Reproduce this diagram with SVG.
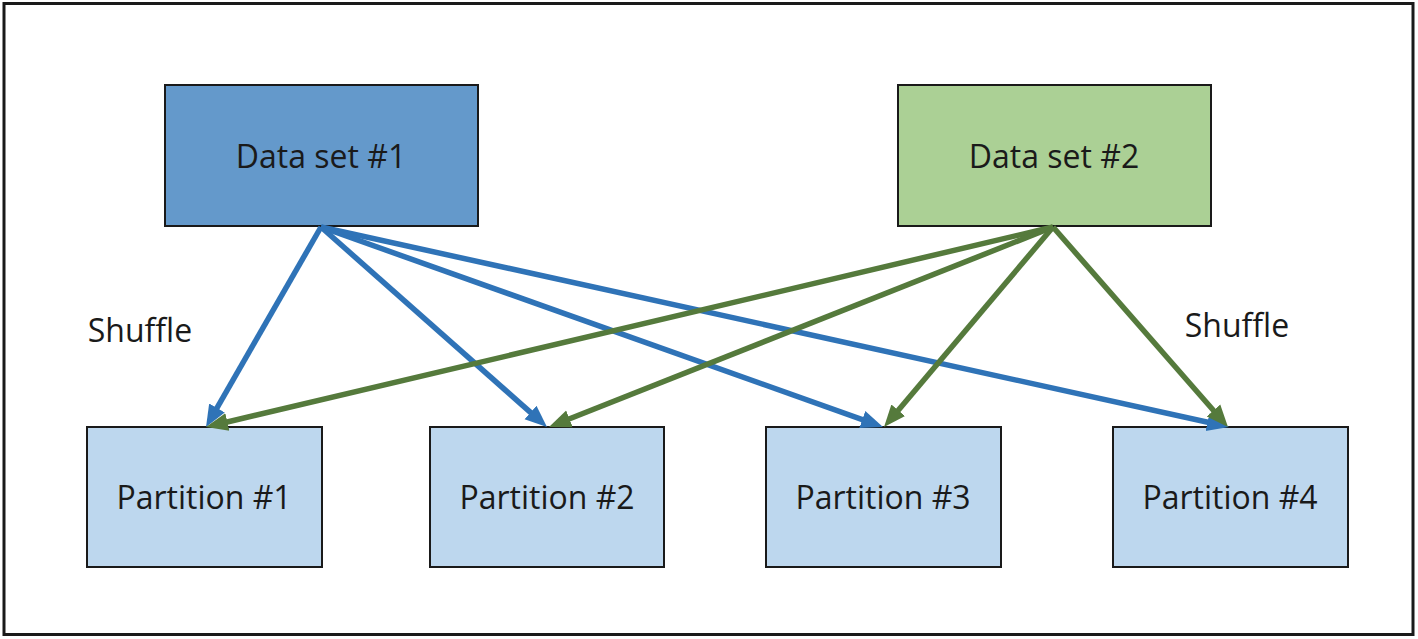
<svg xmlns="http://www.w3.org/2000/svg" width="1418" height="639" viewBox="0 0 1418 639">
  <style>
    .box { stroke: #1a1a1a; stroke-width: 2; }
    .lbl { font-family: "Open Sans", "Noto Sans", sans-serif; font-size: 32px; fill: #1a1a1a; text-anchor: middle; }
    .blue { stroke: #2f73b7; stroke-width: 5.5; fill: none; marker-end: url(#ah-blue); }
    .green { stroke: #557a3c; stroke-width: 5.5; fill: none; marker-end: url(#ah-green); }
  </style>
  <defs>
    <marker id="ah-blue" markerUnits="userSpaceOnUse" markerWidth="24" markerHeight="20" viewBox="0 0 24 20" refX="12" refY="10" orient="auto">
      <path d="M0,1 L22,10 L0,19 Z" fill="#2f73b7"/>
    </marker>
    <marker id="ah-green" markerUnits="userSpaceOnUse" markerWidth="24" markerHeight="20" viewBox="0 0 24 20" refX="12" refY="10" orient="auto">
      <path d="M0,1 L22,10 L0,19 Z" fill="#557a3c"/>
    </marker>
  </defs>
  <rect x="0" y="0" width="1418" height="639" fill="#ffffff"/>
  <rect id="frame" x="4" y="3.5" width="1409" height="631" fill="none" stroke="#1a1a1a" stroke-width="3"/>

  <g id="dataset1">
    <rect class="box" x="165" y="85" width="313" height="141" fill="#6499cb"/>
    <text class="lbl" x="321" y="168">Data set #1</text>
  </g>
  <g id="dataset2">
    <rect class="box" x="898" y="85" width="313" height="141" fill="#abd095"/>
    <text class="lbl" x="1054" y="168">Data set #2</text>
  </g>
  <g id="partition1">
    <rect class="box" x="87" y="427" width="235" height="140" fill="#bdd7ee"/>
    <text class="lbl" x="204" y="509">Partition #1</text>
  </g>
  <g id="partition2">
    <rect class="box" x="430" y="427" width="234" height="140" fill="#bdd7ee"/>
    <text class="lbl" x="547" y="509">Partition #2</text>
  </g>
  <g id="partition3">
    <rect class="box" x="766" y="427" width="235" height="140" fill="#bdd7ee"/>
    <text class="lbl" x="883" y="509">Partition #3</text>
  </g>
  <g id="partition4">
    <rect class="box" x="1113" y="427" width="235" height="140" fill="#bdd7ee"/>
    <text class="lbl" x="1230" y="509">Partition #4</text>
  </g>

  <g id="labels">
    <text class="lbl" x="140" y="342">Shuffle</text>
    <text class="lbl" x="1237" y="337">Shuffle</text>
  </g>

  <g id="connectors">
    <line class="blue" x1="321" y1="227" x2="211.0" y2="418.3"/>
    <line class="blue" x1="321" y1="227" x2="539.5" y2="420.4"/>
    <line class="blue" x1="321" y1="227" x2="873.6" y2="423.6"/>
    <line class="blue" x1="321" y1="227" x2="1219.2" y2="424.8"/>
    <line class="green" x1="1053" y1="227" x2="215.7" y2="424.7"/>
    <line class="green" x1="1053" y1="227" x2="558.3" y2="423.3"/>
    <line class="green" x1="1053" y1="227" x2="890.5" y2="419.4"/>
    <line class="green" x1="1053" y1="227" x2="1221.4" y2="419.5"/>
  </g>
</svg>
